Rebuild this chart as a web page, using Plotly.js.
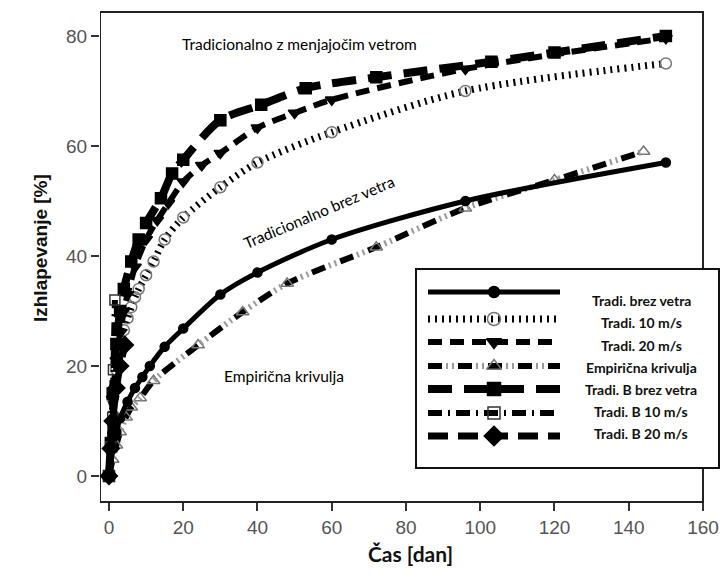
<!DOCTYPE html>
<html>
<head>
<meta charset="utf-8">
<script src="https://cdn.plot.ly/plotly-3.0.1.min.js"></script>
<style>html,body{margin:0;padding:0;background:#fff;}#chart{width:721px;height:578px;}</style>
</head>
<body>
<div id="chart"></div>
<script>
// ---- data ----
const xTicks = [0, 20, 40, 60, 80, 100, 120, 140, 160];
const yTicks = [0, 20, 40, 60, 80];

const brezDays = [0, 1, 2, 3, 5, 7, 9, 11, 15, 20, 30, 40, 60, 96, 150];
const brezVals = [0, 5, 8, 10.5, 13.5, 16, 18, 20, 23.5, 26.8, 33, 37, 43, 50, 57];

const t10Days = [0, 1, 2, 3, 4, 5, 6, 7, 8, 10, 12, 15, 20, 30, 40, 60, 96, 150];
const t10Vals = [0, 14, 19.3, 23, 26.5, 28.7, 30.7, 32.5, 34, 36.5, 39, 43, 47, 52.5, 57, 62.5, 70, 75];

const t20Days = [0, 1, 2, 3, 4, 5, 7, 10, 13, 16, 20, 25, 30, 40, 50, 60, 96, 150];
const t20Vals = [0, 14, 21, 26, 30, 33, 38, 43, 46.5, 49.6, 53.5, 56.5, 58.7, 63.3, 66, 68.4, 74, 79.6];

const empDays = [0, 1, 2, 3, 4.6, 6, 8.4, 12, 24, 36, 48, 72, 96, 120, 144];
const empVals = [0, 3, 5.6, 8, 10.7, 12.5, 14.2, 17.3, 23.8, 29.8, 35, 41.6, 48.7, 53.8, 59];

const bBrezDays = [0, 0.5, 1, 2, 3, 4, 6, 8, 10, 14, 17, 20, 30, 41, 53, 72, 103, 120, 150];
const bBrezVals = [0, 6, 15, 24, 30, 34, 39, 43, 46, 50.5, 55, 57.5, 64.7, 67.5, 70.5, 72.5, 75.3, 77, 80];

const b10Days = [0, 0.5, 1, 1.2, 1.6];
const b10Vals = [0, 5.3, 10.7, 19.3, 32];

const b20Days = [0, 0.5, 1, 2, 3, 4.3];
const b20Vals = [0, 5, 10, 16, 20, 23.8];

const legendLabels = ['Tradi. brez vetra', 'Tradi. 10 m/s', 'Tradi. 20 m/s', 'Empirična krivulja',
                      'Tradi. B brez vetra', 'Tradi. B 10 m/s', 'Tradi. B 20 m/s'];

const xTitle = 'Čas [dan]';
const yTitle = 'Izhlapevanje [%]';
const noteTop = 'Tradicionalno z menjajočim vetrom';
const noteMid = 'Tradicionalno brez vetra';
const noteEmp = 'Empirična krivulja';

// ---- styles ----
const GRAY = '#777';
const styles = [
  {dash: 'solid', width: 5, symbol: 'circle', mcolor: '#000', mline: '#000', size: 9},
  {dash: '2px,5px', width: 7, symbol: 'circle-open', mcolor: GRAY, mline: GRAY, size: 11},
  {dash: '14px,8px', width: 6, symbol: 'triangle-down', mcolor: '#000', mline: '#000', size: 11},
  {dash: '14px,16px', width: 6, symbol: 'triangle-up-open', mcolor: GRAY, mline: GRAY, size: 11},
  {dash: '24px,12px', width: 8, symbol: 'square', mcolor: '#000', mline: '#000', size: 11},
  {dash: '14px,6px,2px,6px', width: 6, symbol: 'square-open', mcolor: '#333', mline: '#333', size: 10},
  {dash: '20px,10px', width: 7, symbol: 'diamond', mcolor: '#000', mline: '#000', size: 13}
];

function series(xs, ys, st, name) {
  return {
    x: xs, y: ys, name: name, type: 'scatter', mode: 'lines+markers',
    line: {color: '#000', width: st.width, dash: st.dash, shape: 'spline', smoothing: 0.8},
    marker: {symbol: st.symbol, size: st.size, color: st.mcolor, opacity: 1,
             line: {color: st.mline, width: 1.5}},
    cliponaxis: false, showlegend: false
  };
}

const traces = [];
// empirical: black long dashes + grey short ticks on the same path
traces.push(series(empDays, empVals, styles[3], legendLabels[3]));
traces.push({x: empDays, y: empVals, type: 'scatter', mode: 'lines', showlegend: false, hoverinfo: 'skip',
  line: {color: '#999', width: 6, dash: '0px,18px,2px,4px,2px,4px', shape: 'spline', smoothing: 0.8}});
traces.push(series(brezDays, brezVals, styles[0], legendLabels[0]));
traces.push(series(t10Days, t10Vals, styles[1], legendLabels[1]));
traces.push(series(t20Days, t20Vals, styles[2], legendLabels[2]));
traces.push(series(bBrezDays, bBrezVals, styles[4], legendLabels[4]));
traces.push(series(b10Days, b10Vals, styles[5], legendLabels[5]));
traces.push(series(b20Days, b20Vals, styles[6], legendLabels[6]));

// ---- hand-made legend (pixel-like overlay axes) ----
const legRowY = [292, 319, 342, 366, 389, 413, 436];
const legTextY = [300, 322, 345, 367, 389, 411, 433];
const legLeft = 428, legRight = 560, legMark = 494, legTextX = 641;

const shapes = [];
// frame of the plot
shapes.push({type: 'rect', layer: 'below', xref: 'x', yref: 'paper', x0: -2.42, x1: 160, y0: 0, y1: 1,
  line: {color: '#222', width: 2}, fillcolor: 'rgba(0,0,0,0)'});
// legend box
shapes.push({type: 'rect', layer: 'below', xref: 'x2', yref: 'y2', x0: 416, x1: 719, y0: 269, y1: 468,
  line: {color: '#111', width: 2}, fillcolor: '#fff'});
styles.forEach((st, i) => {
  shapes.push({type: 'line', layer: 'below', xref: 'x2', yref: 'y2', x0: legLeft, x1: legRight,
    y0: legRowY[i], y1: legRowY[i], line: {color: '#000', width: st.width, dash: st.dash}});
  if (i === 3) {
    shapes.push({type: 'line', layer: 'below', xref: 'x2', yref: 'y2', x0: legLeft, x1: legRight,
      y0: legRowY[i], y1: legRowY[i], line: {color: '#999', width: st.width, dash: '0px,18px,2px,4px,2px,4px'}});
  }
});
styles.forEach((st, i) => {
  traces.push({
    x: [legMark], y: [legRowY[i]], xaxis: 'x2', yaxis: 'y2', type: 'scatter', mode: 'markers',
    showlegend: false, hoverinfo: 'skip', cliponaxis: false,
    marker: {symbol: st.symbol, size: st.size + 2, color: st.mcolor, opacity: 1,
             line: {color: st.mline, width: 1.5}}
  });
});

const annotations = legendLabels.map((t, i) => ({
  xref: 'x2', yref: 'y2', x: legTextX, y: legTextY[i], text: '<b>' + t + '</b>', showarrow: false,
  font: {family: 'Lato, Noto Sans, sans-serif', size: 14, color: '#111'}, xanchor: 'center', yanchor: 'middle'
}));
annotations.push({xref: 'x2', yref: 'y2', x: 299, y: 44, text: noteTop, showarrow: false,
  font: {family: 'Lato, sans-serif', size: 15.5, color: '#000'}, xanchor: 'center', yanchor: 'middle'});
annotations.push({xref: 'x2', yref: 'y2', x: 319, y: 212, text: noteMid, showarrow: false, textangle: -23,
  font: {family: 'Lato, sans-serif', size: 15.5, color: '#000'}, xanchor: 'center', yanchor: 'middle'});
annotations.push({xref: 'x2', yref: 'y2', x: 284, y: 376, text: noteEmp, showarrow: false,
  font: {family: 'Lato, sans-serif', size: 15.5, color: '#000'}, xanchor: 'center', yanchor: 'middle'});
// y axis title placed exactly where the reference has it
annotations.push({xref: 'paper', yref: 'y2', x: -0.0966, xanchor: 'center', y: 248, yanchor: 'middle',
  text: '<b>' + yTitle + '</b>', showarrow: false, textangle: -90,
  font: {family: 'Liberation Sans, Arial, sans-serif', size: 19, color: '#111'}});

const tickFont = {family: 'Liberation Sans, Arial, sans-serif', size: 19, color: '#555'};

const layout = {
  width: 721, height: 578,
  margin: {l: 100, r: 0, t: 12, b: 76, pad: 0},
  paper_bgcolor: '#fff', plot_bgcolor: '#fff',
  showlegend: false,
  xaxis: {range: [-2.42, 164.85], tickvals: xTicks, ticktext: xTicks.map(String), ticks: 'outside',
    ticklen: 8, tickwidth: 2, tickcolor: '#333', showline: false, zeroline: false, showgrid: false,
    tickfont: tickFont, automargin: false,
    title: {text: '<b>' + xTitle + '</b>', font: {family: 'Lato, sans-serif', size: 21, color: '#111'}, standoff: 10}},
  yaxis: {range: [-4.73, 84.36], tickvals: yTicks, ticktext: yTicks.map(String), ticks: 'outside',
    ticklen: 8, tickwidth: 2, tickcolor: '#333', showline: false, zeroline: false, showgrid: false,
    tickfont: tickFont, automargin: false, title: {text: ''}},
  xaxis2: {overlaying: 'x', anchor: 'y2', range: [100, 721], visible: false, fixedrange: true},
  yaxis2: {overlaying: 'y', anchor: 'x2', range: [502, 12], visible: false, fixedrange: true},
  shapes: shapes,
  annotations: annotations
};

Plotly.newPlot('chart', traces, layout, {displayModeBar: false, staticPlot: true});
</script>
</body>
</html>
